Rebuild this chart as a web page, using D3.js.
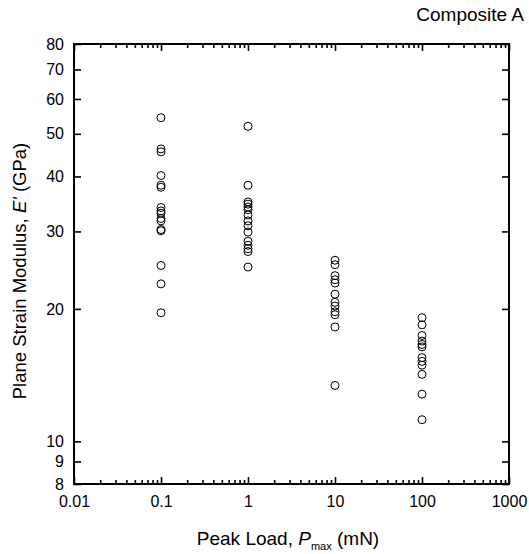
<!DOCTYPE html>
<html>
<head>
<meta charset="utf-8">
<script src="https://cdn.jsdelivr.net/npm/d3@7"></script>
<style>
  body { margin: 0; background: #fff; }
  svg text { font-family: Arial, "Liberation Sans", sans-serif; fill: #000; }
</style>
</head>
<body>
<div id="chart"></div>
<script>
// peak loads (mN) and the measured moduli (GPa) at each load
var loads = [0.1, 1, 10, 100];
var modulus01 = [54.4, 46.2, 45.5, 40.2, 38.2, 37.8, 34.0, 33.4, 33.0, 32.1, 31.7, 30.3, 30.1, 25.1, 22.8, 19.6];
var modulus1 = [52.0, 38.2, 35.0, 34.6, 34.1, 33.6, 32.7, 31.7, 30.9, 29.9, 28.5, 27.9, 27.4, 27.0, 24.9];
var modulus10 = [25.8, 25.2, 23.8, 23.3, 22.9, 21.6, 20.7, 20.3, 19.7, 19.4, 18.2, 13.4];
var modulus100 = [19.1, 18.4, 17.4, 16.9, 16.6, 16.4, 15.5, 15.2, 14.9, 14.2, 12.8, 11.2];

var xTicks = [0.01, 0.1, 1, 10, 100, 1000];
var xTickLabels = ["0.01", "0.1", "1", "10", "100", "1000"];
var yTicks = [8, 9, 10, 20, 30, 40, 50, 60, 70, 80];

var svgWidth = 529;
var svgHeight = 554;

var margin = {
    top: 44,
    right: 20,
    bottom: 70,
    left: 74
};

var width = svgWidth - margin.left - margin.right;
var height = svgHeight - margin.top - margin.bottom;

var svg = d3.select("#chart")
    .append("svg")
    .attr("width", svgWidth)
    .attr("height", svgHeight);

var chartGroup = svg.append("g")
    .attr("transform", `translate(${margin.left},${margin.top})`);

var xScale = d3.scaleLog()
    .domain([0.01, 1000])
    .range([0, width]);

var yScale = d3.scaleLog()
    .domain([8, 80])
    .range([height, 0]);

// minor ticks 2..9 in each decade
var xMinor = [];
xTicks.slice(0, -1).forEach(function(d) {
    for (var k = 2; k <= 9; k++) xMinor.push(d * k);
});

var majorLen = 7;
var minorLen = 4;

function styleAxis(g) {
    g.select(".domain").remove();
    g.selectAll("line").attr("stroke", "#000").attr("stroke-width", 1.6);
    g.selectAll("text").style("font-size", "16px");
}

// bottom axis with labels
chartGroup.append("g")
    .attr("transform", `translate(0,${height})`)
    .call(d3.axisBottom(xScale).tickValues(xTicks).tickSize(-majorLen).tickPadding(12)
        .tickFormat(function(d, i) { return xTickLabels[i]; }))
    .call(styleAxis);

chartGroup.append("g")
    .attr("transform", `translate(0,${height})`)
    .call(d3.axisBottom(xScale).tickValues(xMinor).tickSize(-minorLen).tickFormat(""))
    .call(styleAxis);

// top axis, ticks only
chartGroup.append("g")
    .call(d3.axisTop(xScale).tickValues(xTicks).tickSize(-majorLen).tickFormat(""))
    .call(styleAxis);

chartGroup.append("g")
    .call(d3.axisTop(xScale).tickValues(xMinor).tickSize(-minorLen).tickFormat(""))
    .call(styleAxis);

// left axis with labels
chartGroup.append("g")
    .call(d3.axisLeft(yScale).tickValues(yTicks).tickSize(-majorLen).tickPadding(10)
        .tickFormat(d3.format("d")))
    .call(styleAxis);

// right axis, ticks only
chartGroup.append("g")
    .attr("transform", `translate(${width},0)`)
    .call(d3.axisRight(yScale).tickValues(yTicks).tickSize(-majorLen).tickFormat(""))
    .call(styleAxis);

// frame
chartGroup.append("rect")
    .attr("x", 0)
    .attr("y", 0)
    .attr("width", width)
    .attr("height", height)
    .attr("fill", "none")
    .attr("stroke", "#000")
    .attr("stroke-width", 2);

// points
var series = [modulus01, modulus1, modulus10, modulus100];
var points = [];
series.forEach(function(vals, i) {
    vals.forEach(function(v) {
        points.push({load: loads[i], modulus: v});
    });
});

chartGroup.selectAll("circle.dot")
    .data(points)
    .enter()
    .append("circle")
    .attr("class", "dot")
    .attr("cx", d => xScale(d.load))
    .attr("cy", d => yScale(d.modulus))
    .attr("r", 4)
    .attr("fill", "none")
    .attr("stroke", "#000")
    .attr("stroke-width", 1);

// x axis title
var xTitle = svg.append("text")
    .attr("x", 288)
    .attr("y", 545)
    .attr("text-anchor", "middle")
    .style("font-size", "19px");
xTitle.append("tspan").text("Peak Load, ");
xTitle.append("tspan").style("font-style", "italic").text("P");
xTitle.append("tspan").attr("dy", 5).style("font-size", "11px").text("max");
xTitle.append("tspan").attr("dy", -5).text(" (mN)");

// y axis title
var yTitle = svg.append("text")
    .attr("transform", `translate(26,271) rotate(-90)`)
    .attr("text-anchor", "middle")
    .style("font-size", "18.5px");
yTitle.append("tspan").text("Plane Strain Modulus, ");
yTitle.append("tspan").style("font-style", "italic").text("E'");
yTitle.append("tspan").text(" (GPa)");

// panel label
svg.append("text")
    .attr("x", 524)
    .attr("y", 21)
    .attr("text-anchor", "end")
    .style("font-size", "19px")
    .text("Composite A");
</script>
</body>
</html>
